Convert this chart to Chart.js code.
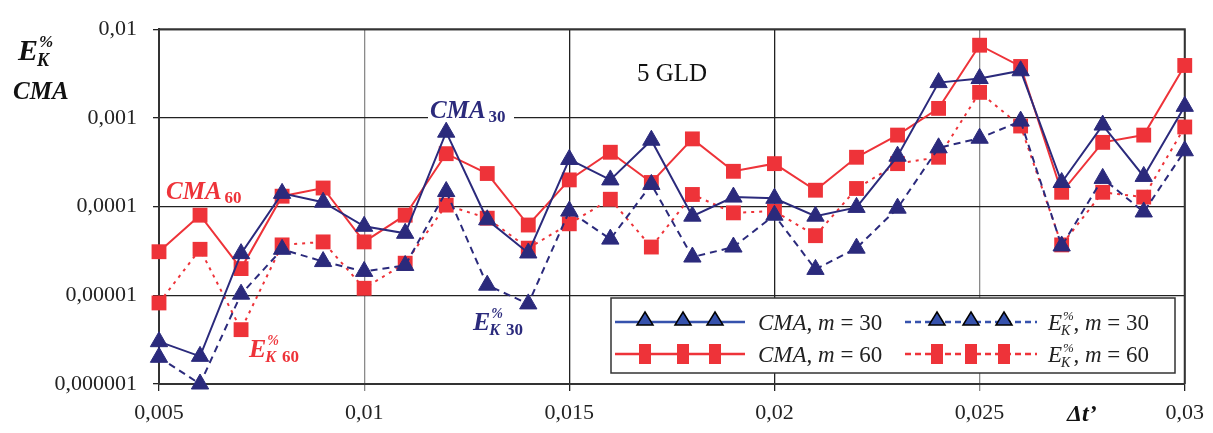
<!DOCTYPE html>
<html>
<head>
<meta charset="utf-8">
<script src="https://cdn.jsdelivr.net/npm/chart.js@4.4.1/dist/chart.umd.min.js"></script>
<style>
  html, body { margin: 0; padding: 0; background: #fff; }
</style>
</head>
<body>
<canvas id="chart" width="1213" height="433"></canvas>
<script>
// time step, dt'
const dt = [0.005, 0.006, 0.007, 0.008, 0.009, 0.010, 0.011, 0.012, 0.013, 0.014, 0.015, 0.016, 0.017,
            0.018, 0.019, 0.020, 0.021, 0.022, 0.023, 0.024, 0.025, 0.026, 0.027, 0.028, 0.029, 0.030];

// CMA, m = 30
const cma30 = [3.0e-6, 2.05e-6, 2.95e-5, 1.41e-4, 1.12e-4, 6.0e-5, 5.0e-5, 6.9e-4, 7.1e-5, 3.0e-5, 3.4e-4, 2.0e-4, 5.6e-4,
               7.8e-5, 1.28e-4, 1.24e-4, 7.8e-5, 9.8e-5, 3.7e-4, 2.5e-3, 2.78e-3, 3.4e-3, 1.87e-4, 8.3e-4, 2.19e-4, 1.35e-3];
// CMA, m = 60
const cma60 = [3.1e-5, 8.0e-5, 2.0e-5, 1.31e-4, 1.62e-4, 4.0e-5, 8.0e-5, 3.95e-4, 2.36e-4, 6.2e-5, 2.0e-4, 4.1e-4, 1.87e-4,
               5.8e-4, 2.5e-4, 3.05e-4, 1.53e-4, 3.6e-4, 6.4e-4, 1.28e-3, 6.6e-3, 3.8e-3, 1.45e-4, 5.3e-4, 6.4e-4, 3.9e-3];
// E%K, m = 30
const ek30 = [2.0e-6, 1.0e-6, 1.03e-5, 3.3e-5, 2.4e-5, 1.86e-5, 2.17e-5, 1.48e-4, 1.3e-5, 8.0e-6, 8.9e-5, 4.3e-5, 1.78e-4,
              2.7e-5, 3.5e-5, 8.0e-5, 1.96e-5, 3.4e-5, 9.6e-5, 4.6e-4, 5.9e-4, 9.2e-4, 3.6e-5, 2.08e-4, 8.7e-5, 4.26e-4];
// E%K, m = 60
const ek60 = [8.2e-6, 3.3e-5, 4.1e-6, 3.7e-5, 4.0e-5, 1.2e-5, 2.3e-5, 1.04e-4, 7.4e-5, 3.4e-5, 6.4e-5, 1.21e-4, 3.5e-5,
              1.37e-4, 8.5e-5, 8.9e-5, 4.7e-5, 1.6e-4, 3.05e-4, 3.6e-4, 1.94e-3, 8.1e-4, 3.7e-5, 1.45e-4, 1.28e-4, 7.9e-4];

const xTicks = [0.005, 0.010, 0.015, 0.020, 0.025, 0.030];
const xTickLabels = ['0,005', '0,01', '0,015', '0,02', '0,025', '0,03'];
const yTicks = [1e-6, 1e-5, 1e-4, 1e-3, 1e-2];
const yTickLabels = ['0,000001', '0,00001', '0,0001', '0,001', '0,01'];

const NAVY = '#2b2a7c';
const RED = '#ee3339';
const SERIF = '"Liberation Serif", "DejaVu Serif", serif';

const pts = (ys) => ys.map((y, i) => ({ x: dt[i], y }));

// E with % superscript and K subscript
function drawEK(ctx, x, y, size, color, bold) {
  const w = bold ? 'bold ' : '';
  ctx.fillStyle = color;
  ctx.textAlign = 'left';
  ctx.textBaseline = 'alphabetic';
  ctx.font = `italic ${w}${size}px ${SERIF}`;
  ctx.fillText('E', x, y);
  const ew = ctx.measureText('E').width;
  ctx.font = `italic ${w}${Math.round(size * 0.55)}px ${SERIF}`;
  ctx.fillText('%', x + ew + 1, y - size * 0.45);
  ctx.font = `italic ${w}${Math.round(size * 0.6)}px ${SERIF}`;
  ctx.fillText('K', x + ew - 1, y + size * 0.2);
  return x + ew + ctx.measureText('K').width;
}

const deco = {
  id: 'deco',
  beforeDatasetsDraw(chart) {
    const { ctx, chartArea: a } = chart;
    ctx.save();
    // plot frame (top, right)
    ctx.strokeStyle = '#333';
    ctx.lineWidth = 2;
    ctx.beginPath();
    ctx.moveTo(a.left, a.top); ctx.lineTo(a.right, a.top); ctx.lineTo(a.right, a.bottom);
    ctx.stroke();
    // white gap behind CMA30 label
    ctx.fillStyle = '#fff';
    ctx.fillRect(428, 103, 86, 20);
    ctx.restore();
  },
  afterDatasetsDraw(chart) {
    const { ctx } = chart;
    ctx.save();
    ctx.textBaseline = 'alphabetic';
    ctx.textAlign = 'left';

    // axis titles
    drawEK(ctx, 18, 60, 30, '#111', true);
    ctx.fillStyle = '#111';
    ctx.font = `italic bold 25px ${SERIF}`;
    ctx.fillText('CMA', 13, 99);
    ctx.font = `italic bold 24px ${SERIF}`;
    ctx.fillText('\u0394t\u2019', 1067, 421);

    // 5 GLD
    ctx.font = `25px ${SERIF}`;
    ctx.fillText('5 GLD', 637, 81);

    // series labels
    ctx.fillStyle = RED;
    ctx.font = `italic bold 25px ${SERIF}`;
    ctx.fillText('CMA', 166, 199);
    let w = ctx.measureText('CMA').width;
    ctx.font = `bold 17px ${SERIF}`;
    ctx.fillText('60', 169 + w, 203);

    ctx.fillStyle = NAVY;
    ctx.font = `italic bold 25px ${SERIF}`;
    ctx.fillText('CMA', 430, 118);
    w = ctx.measureText('CMA').width;
    ctx.font = `bold 17px ${SERIF}`;
    ctx.fillText('30', 433 + w, 122);

    let ex = drawEK(ctx, 249, 357, 26, RED, true);
    ctx.font = `bold 17px ${SERIF}`;
    ctx.fillText('60', ex + 5, 362);

    ex = drawEK(ctx, 473, 330, 26, NAVY, true);
    ctx.font = `bold 17px ${SERIF}`;
    ctx.fillText('30', ex + 5, 335);

    // legend
    const L = { x: 611, y: 298, w: 564, h: 75 };
    ctx.fillStyle = '#fff';
    ctx.fillRect(L.x, L.y, L.w, L.h);
    ctx.strokeStyle = '#333';
    ctx.lineWidth = 1.5;
    ctx.strokeRect(L.x, L.y, L.w, L.h);

    const rows = [
      { col: 0, y: 322, color: '#3652ad', dash: [], tri: true, m: '30' },
      { col: 1, y: 322, color: '#3652ad', dash: [6, 4], tri: true, m: '30' },
      { col: 0, y: 354, color: RED, dash: [], tri: false, m: '60' },
      { col: 1, y: 354, color: RED, dash: [6, 4], tri: false, m: '60' }
    ];
    const cols = [
      { x0: 615, x1: 745, marks: [645, 683, 715], tx: 758 },
      { x0: 905, x1: 1037, marks: [937, 971, 1004], tx: 1048 }
    ];
    for (const r of rows) {
      const c = cols[r.col];
      ctx.strokeStyle = r.color;
      ctx.lineWidth = 2.5;
      ctx.setLineDash(r.dash);
      ctx.beginPath(); ctx.moveTo(c.x0, r.y); ctx.lineTo(c.x1, r.y); ctx.stroke();
      ctx.setLineDash([]);
      for (const mx of c.marks) {
        if (r.tri) {
          ctx.fillStyle = '#3652ad';
          ctx.strokeStyle = '#000';
          ctx.lineWidth = 1.5;
          ctx.beginPath();
          ctx.moveTo(mx, r.y - 10); ctx.lineTo(mx + 8, r.y + 3); ctx.lineTo(mx - 8, r.y + 3); ctx.closePath();
          ctx.fill(); ctx.stroke();
        } else {
          ctx.fillStyle = RED;
          ctx.fillRect(mx - 6, r.y - 10, 12, 20);
        }
      }
      const ty = r.y + 8;
      let x = c.tx;
      ctx.fillStyle = '#222';
      if (r.col === 0) {
        ctx.font = `italic 23px ${SERIF}`;
        ctx.fillText('CMA', x, ty); x += ctx.measureText('CMA').width;
      } else {
        x = drawEK(ctx, x, ty, 23, '#222', false) + 2;
      }
      ctx.font = `23px ${SERIF}`;
      ctx.fillText(', ', x, ty); x += ctx.measureText(', ').width;
      ctx.font = `italic 23px ${SERIF}`;
      ctx.fillText('m', x, ty); x += ctx.measureText('m').width;
      ctx.font = `23px ${SERIF}`;
      ctx.fillText(' = ' + r.m, x, ty);
    }
    ctx.restore();
  }
};

new Chart(document.getElementById('chart'), {
  type: 'line',
  data: {
    datasets: [
      {
        label: 'CMA, m = 30', data: pts(cma30), clip: false,
        borderColor: NAVY, backgroundColor: NAVY, borderWidth: 2,
        pointStyle: 'triangle', pointRadius: 10, pointBorderWidth: 1
      },
      {
        label: 'E%K, m = 30', data: pts(ek30), clip: false,
        borderColor: NAVY, backgroundColor: NAVY, borderWidth: 2, borderDash: [7, 5],
        pointStyle: 'triangle', pointRadius: 10, pointBorderWidth: 1
      },
      {
        label: 'CMA, m = 60', data: pts(cma60), clip: false,
        borderColor: RED, backgroundColor: RED, borderWidth: 2,
        pointStyle: 'rect', pointRadius: 10.5, pointBorderWidth: 0
      },
      {
        label: 'E%K, m = 60', data: pts(ek60), clip: false,
        borderColor: RED, backgroundColor: RED, borderWidth: 2, borderDash: [3, 5],
        pointStyle: 'rect', pointRadius: 10.5, pointBorderWidth: 0
      }
    ]
  },
  options: {
    responsive: false,
    animation: false,
    layout: { padding: { top: 25, right: 23, left: 0, bottom: 0 } },
    plugins: { legend: { display: false }, tooltip: { enabled: false } },
    elements: { line: { tension: 0 } },
    scales: {
      x: {
        type: 'linear', min: 0.005, max: 0.03,
        afterBuildTicks: (s) => { s.ticks = xTicks.map(v => ({ value: v })); },
        afterFit: (s) => { s.height = 49; },
        ticks: {
          padding: 9, color: '#222', maxRotation: 0,
          font: { family: SERIF, size: 22 },
          callback: (v, i) => xTickLabels[i]
        },
        grid: {
          drawOnChartArea: true, tickLength: 7, lineWidth: 1.3,
          color: (c) => (c.index === 1 || c.index === 4) ? '#8a8a8a' : '#222'
        },
        border: { color: '#333', width: 2 }
      },
      y: {
        type: 'logarithmic', min: 1e-6, max: 1e-2,
        afterBuildTicks: (s) => { s.ticks = yTicks.map(v => ({ value: v })); },
        afterFit: (s) => { s.width = 159; },
        ticks: {
          padding: 16, color: '#222',
          font: { family: SERIF, size: 22 },
          callback: (v, i) => yTickLabels[i]
        },
        grid: { tickLength: 6, lineWidth: 1.3, color: '#222' },
        border: { color: '#333', width: 2 }
      }
    }
  },
  plugins: [deco]
});
</script>
</body>
</html>
